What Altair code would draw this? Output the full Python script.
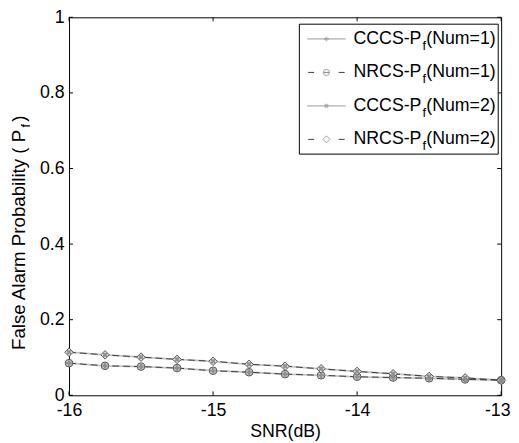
import altair as alt
import pandas as pd

# ---------------- data ----------------
snr = [-16, -15.75, -15.5, -15.25, -15, -14.75, -14.5, -14.25, -14, -13.75, -13.5, -13.25, -13]
cccs_num1 = [0.085, 0.078, 0.076, 0.072, 0.065, 0.061, 0.056, 0.053, 0.049, 0.047, 0.045, 0.042, 0.040]
nrcs_num1 = [0.085, 0.078, 0.076, 0.072, 0.065, 0.061, 0.056, 0.053, 0.049, 0.047, 0.045, 0.042, 0.040]
cccs_num2 = [0.114, 0.107, 0.101, 0.095, 0.090, 0.082, 0.077, 0.070, 0.063, 0.057, 0.050, 0.046, 0.040]
nrcs_num2 = [0.114, 0.107, 0.101, 0.095, 0.090, 0.082, 0.077, 0.070, 0.063, 0.057, 0.050, 0.046, 0.040]

x_ticks = [-16, -15, -14, -13]
y_ticks = [0, 0.2, 0.4, 0.6, 0.8, 1]
legend_prefix = ["CCCS-P", "NRCS-P", "CCCS-P", "NRCS-P"]
legend_suffix = ["(Num=1)", "(Num=1)", "(Num=2)", "(Num=2)"]

FONT = "Liberation Sans"
W, H = 439, 384
XMIN, XMAX = -16, -13
YMIN, YMAX = 0, 1

xs = alt.Scale(domain=[XMIN, XMAX], nice=False, zero=False)
ys = alt.Scale(domain=[YMIN, YMAX], nice=False)

df = pd.DataFrame({"snr": snr, "c1": cccs_num1, "n1": nrcs_num1, "c2": cccs_num2, "n2": nrcs_num2})

LIGHT = "#c4c4c4"
DARK = "#3a3a3a"
MFILL = "#c8c8c8"
MSTROKE = "#555555"

x_axis = alt.Axis(
    values=x_ticks, labelExpr="'' + datum.value", title="SNR(dB)", ticks=False, domain=False, grid=False,
    labelFlush=False, labelOverlap=False,
    labelOffset={"condition": {"test": f"datum.value == {XMAX}", "value": -4}, "value": 0},
    labelFont=FONT, labelFontSize=18, labelColor="black", labelPadding=7,
    titleFont=FONT, titleFontSize=18, titleFontWeight="normal", titleColor="black", titlePadding=3)
y_axis = alt.Axis(values=y_ticks, labelExpr="'' + datum.value", title="", ticks=False, domain=False,
                  grid=False, labelFlush=False, labelOverlap=False,
                  labelFont=FONT, labelFontSize=18, labelColor="black", labelPadding=5)


def xenc(field):
    return alt.X(f"{field}:Q", scale=xs, axis=x_axis)


def yenc(field):
    return alt.Y(f"{field}:Q", scale=ys, axis=y_axis)


base = alt.Chart(df)
layers = []
# CCCS light solid lines
layers.append(base.mark_line(color=LIGHT, strokeWidth=1.8).encode(x=xenc("snr"), y=yenc("c1")))
layers.append(base.mark_line(color=LIGHT, strokeWidth=1.8).encode(x=xenc("snr"), y=yenc("c2")))
# NRCS dashed lines
layers.append(base.mark_line(color=DARK, strokeWidth=1, strokeDash=[7, 4]).encode(x=xenc("snr"), y=yenc("n1")))
layers.append(base.mark_line(color=DARK, strokeWidth=1, strokeDash=[7, 4]).encode(x=xenc("snr"), y=yenc("n2")))
# NRCS markers
layers.append(base.mark_point(shape="circle", size=60, filled=True, fill=MFILL, stroke=MSTROKE,
                              strokeWidth=1, opacity=1).encode(x=xenc("snr"), y=yenc("n1")))
layers.append(base.mark_point(shape="diamond", size=75, filled=True, fill="#e4e4e4", stroke=MSTROKE,
                              strokeWidth=1, opacity=1).encode(x=xenc("snr"), y=yenc("n2")))
# CCCS markers (+ and x)
layers.append(base.mark_point(shape="cross", size=30, filled=True, color="#8a8a8a", opacity=0.9)
              .encode(x=xenc("snr"), y=yenc("c1")))
layers.append(base.mark_point(shape="cross", size=30, filled=True, color="#8a8a8a", opacity=0.9, angle=45)
              .encode(x=xenc("snr"), y=yenc("c2")))

# inward ticks (MATLAB style) on all four sides
dx = (XMAX - XMIN) * 4 / W
dy = (YMAX - YMIN) * 4 / H
yt = pd.DataFrame({"v": y_ticks})
xt = pd.DataFrame({"v": x_ticks})
tick_style = dict(color="black", strokeWidth=1)
layers.append(alt.Chart(yt).mark_rule(**tick_style).encode(
    y=yenc("v"), x=alt.datum(XMIN, scale=xs, axis=x_axis), x2=alt.datum(XMIN + dx)))
layers.append(alt.Chart(yt).mark_rule(**tick_style).encode(
    y=yenc("v"), x=alt.datum(XMAX, scale=xs, axis=x_axis), x2=alt.datum(XMAX - dx)))
layers.append(alt.Chart(xt).mark_rule(**tick_style).encode(
    x=xenc("v"), y=alt.datum(YMIN, scale=ys, axis=y_axis), y2=alt.datum(YMIN + dy)))
layers.append(alt.Chart(xt).mark_rule(**tick_style).encode(
    x=xenc("v"), y=alt.datum(YMAX, scale=ys, axis=y_axis), y2=alt.datum(YMAX - dy)))

# ---------------- manual legend (chrome, pixel positions) ----------------
one = pd.DataFrame({"a": [0]})
LX0, LX1, LY0, LY1 = 234, 436, 7, 139
layers.append(alt.Chart(one).mark_rect(fill="white", stroke="black", strokeWidth=1).encode(
    x=alt.value(LX0), x2=alt.value(LX1), y=alt.value(LY0), y2=alt.value(LY1)))
row_y = [22, 56, 90, 124]
SX0, SX1, SM = 242, 281, 261.5
TXT_R = 358
for i, (pre, suf) in enumerate(zip(legend_prefix, legend_suffix)):
    yy = row_y[i]
    if i % 2 == 0:
        layers.append(alt.Chart(one).mark_rule(color=LIGHT, strokeWidth=1.8).encode(
            x=alt.value(SX0), x2=alt.value(SX1), y=alt.value(yy)))
        layers.append(alt.Chart(one).mark_point(shape="cross", size=22, filled=True, color="#9a9a9a",
                                                angle=0 if i == 0 else 45).encode(
            x=alt.value(SM), y=alt.value(yy)))
    else:
        layers.append(alt.Chart(one).mark_rule(color=DARK, strokeWidth=1).encode(
            x=alt.value(SX0 + 1), x2=alt.value(SX0 + 7), y=alt.value(yy)))
        layers.append(alt.Chart(one).mark_rule(color=DARK, strokeWidth=1).encode(
            x=alt.value(SX1 - 7), x2=alt.value(SX1 - 1), y=alt.value(yy)))
        layers.append(alt.Chart(one).mark_point(shape="circle" if i == 1 else "diamond",
                                                size=40 if i == 1 else 50, filled=False,
                                                stroke="#777777", strokeWidth=1).encode(
            x=alt.value(SM), y=alt.value(yy)))
        if i == 1:
            layers.append(alt.Chart(one).mark_rule(color="#888888", strokeWidth=1).encode(
                x=alt.value(SM - 3), x2=alt.value(SM + 3), y=alt.value(yy)))
    layers.append(alt.Chart(one).mark_text(text=pre, font=FONT, fontSize=18, align="right",
                                           baseline="middle", color="black").encode(
        x=alt.value(TXT_R), y=alt.value(yy)))
    layers.append(alt.Chart(one).mark_text(text="f", font=FONT, fontSize=13, align="left",
                                           baseline="middle", color="black").encode(
        x=alt.value(TXT_R + 1), y=alt.value(yy + 7)))
    layers.append(alt.Chart(one).mark_text(text=suf, font=FONT, fontSize=18, align="left",
                                           baseline="middle", color="black").encode(
        x=alt.value(TXT_R + 5), y=alt.value(yy)))

# ---------------- y-axis title with subscript (manual, rotated) ----------------
TY_X = -51
layers.append(alt.Chart(one).mark_text(text="False Alarm Probability ( P", font=FONT, fontSize=19,
                                       angle=270, align="left", baseline="middle", color="black").encode(
    x=alt.value(TY_X), y=alt.value(338)))
layers.append(alt.Chart(one).mark_text(text="f", font=FONT, fontSize=13, angle=270, align="left",
                                       baseline="middle", color="black").encode(
    x=alt.value(TY_X + 7), y=alt.value(112)))
layers.append(alt.Chart(one).mark_text(text=" )", font=FONT, fontSize=19, angle=270, align="left",
                                       baseline="middle", color="black").encode(
    x=alt.value(TY_X), y=alt.value(106)))

chart = alt.layer(*layers).properties(
    width=W, height=H,
    autosize=alt.AutoSizeParams(type="none"),
    padding={"left": 62, "top": 6, "right": 10, "bottom": 45},
    background="white",
).configure_view(stroke="black", strokeWidth=1).resolve_scale(x="shared", y="shared")

chart.save("out.html", embed_options={"renderer": "svg", "actions": False})
